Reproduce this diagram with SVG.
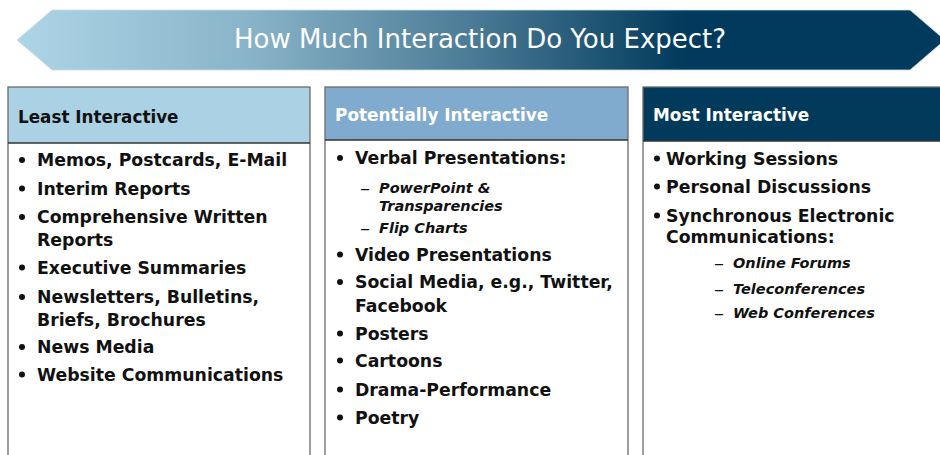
<svg xmlns="http://www.w3.org/2000/svg" width="940" height="455" viewBox="0 0 940 455">
<defs>
<linearGradient id="bannerGrad" gradientUnits="userSpaceOnUse" x1="17" y1="0" x2="685" y2="0">
<stop offset="0" stop-color="#aed5e7"/>
<stop offset="0.35" stop-color="#89b3c8"/>
<stop offset="0.68" stop-color="#4b7b96"/>
<stop offset="1" stop-color="#013a5c"/>
</linearGradient>
<style>
.hdrline{stroke:#333333;stroke-width:1.3}
.hdr{font-family:"DejaVu Sans",Verdana,sans-serif;font-weight:bold}
.item{font-family:"DejaVu Sans",Verdana,sans-serif;font-weight:bold;font-size:17.3px;fill:#111111}
.sub{font-family:"DejaVu Sans",Verdana,sans-serif;font-weight:bold;font-style:italic;font-size:14.5px;fill:#111111}
.dash{font-family:"DejaVu Sans",Verdana,sans-serif;font-size:20px;fill:#111111}
.bul{fill:#111111}
.frame{fill:none;stroke:#6a6a6a;stroke-width:1.3}
</style>
</defs>
<g id="banner">
<polygon points="17,40 52,10 910,10 945,40 910,70 52,70" fill="url(#bannerGrad)" stroke="#c8dde8" stroke-width="0.8"/>
<text x="480" y="48" text-anchor="middle" font-family="DejaVu Sans, Verdana, sans-serif" font-size="26" fill="#ffffff">How Much Interaction Do You Expect?</text>
</g>
<g id="col-least">
<rect x="8" y="87" width="302" height="380" fill="#ffffff"/>
<rect x="8" y="87" width="302" height="56" fill="#abd2e4"/>
<rect class="frame" x="8" y="87" width="302" height="380"/>
<line class="hdrline" x1="8" y1="143" x2="310" y2="143"/>
<text class="hdr" x="18" y="123" font-size="16.8" fill="#111111">Least Interactive</text>
<circle class="bul" cx="22" cy="160" r="3"/>
<text class="item" x="37" y="166">Memos, Postcards, E-Mail</text>
<circle class="bul" cx="22" cy="188.5" r="3"/>
<text class="item" x="37" y="194.5">Interim Reports</text>
<circle class="bul" cx="22" cy="217" r="3"/>
<text class="item" x="37" y="223">Comprehensive Written</text>
<text class="item" x="37" y="246">Reports</text>
<circle class="bul" cx="22" cy="267.5" r="3"/>
<text class="item" x="37" y="273.5">Executive Summaries</text>
<circle class="bul" cx="22" cy="297" r="3"/>
<text class="item" x="37" y="303">Newsletters, Bulletins,</text>
<text class="item" x="37" y="325.5">Briefs, Brochures</text>
<circle class="bul" cx="22" cy="347" r="3"/>
<text class="item" x="37" y="353">News Media</text>
<circle class="bul" cx="22" cy="374.5" r="3"/>
<text class="item" x="37" y="380.5">Website Communications</text>
</g>
<g id="col-potential">
<rect x="325" y="87" width="303" height="380" fill="#ffffff"/>
<rect x="325" y="87" width="303" height="53" fill="#80abcf"/>
<rect class="frame" x="325" y="87" width="303" height="380"/>
<line class="hdrline" x1="325" y1="140" x2="628" y2="140"/>
<text class="hdr" x="335" y="120.5" font-size="16.9" fill="#ffffff">Potentially Interactive</text>
<circle class="bul" cx="340" cy="158" r="3"/>
<text class="item" x="355" y="164">Verbal Presentations:</text>
<text class="dash" x="360" y="194.5">–</text>
<text class="sub" x="379" y="193">PowerPoint &amp;</text>
<text class="sub" x="379" y="211">Transparencies</text>
<text class="dash" x="360" y="234.5">–</text>
<text class="sub" x="379" y="233">Flip Charts</text>
<circle class="bul" cx="340" cy="254.5" r="3"/>
<text class="item" x="355" y="260.5">Video Presentations</text>
<circle class="bul" cx="340" cy="282" r="3"/>
<text class="item" x="355" y="288">Social Media, e.g., Twitter,</text>
<text class="item" x="355" y="311.5">Facebook</text>
<circle class="bul" cx="340" cy="333.5" r="3"/>
<text class="item" x="355" y="339.5">Posters</text>
<circle class="bul" cx="340" cy="360.5" r="3"/>
<text class="item" x="355" y="366.5">Cartoons</text>
<circle class="bul" cx="340" cy="389.5" r="3"/>
<text class="item" x="355" y="395.5">Drama-Performance</text>
<circle class="bul" cx="340" cy="417.5" r="3"/>
<text class="item" x="355" y="423.5">Poetry</text>
</g>
<g id="col-most">
<rect x="643" y="87" width="310" height="380" fill="#ffffff"/>
<rect x="643" y="87" width="310" height="54" fill="#023a5b"/>
<rect class="frame" x="643" y="87" width="310" height="380"/>
<line class="hdrline" x1="643" y1="141" x2="940" y2="141"/>
<text class="hdr" x="653" y="121" font-size="16.9" fill="#ffffff">Most Interactive</text>
<circle class="bul" cx="657" cy="158.5" r="3"/>
<text class="item" x="666" y="164.5">Working Sessions</text>
<circle class="bul" cx="657" cy="186.5" r="3"/>
<text class="item" x="666" y="192.5">Personal Discussions</text>
<circle class="bul" cx="657" cy="215.5" r="3"/>
<text class="item" x="666" y="221.5">Synchronous Electronic</text>
<text class="item" x="666" y="242.5">Communications:</text>
<text class="dash" x="714" y="269.5">–</text>
<text class="sub" x="733" y="268">Online Forums</text>
<text class="dash" x="714" y="295.5">–</text>
<text class="sub" x="733" y="294">Teleconferences</text>
<text class="dash" x="714" y="319.5">–</text>
<text class="sub" x="733" y="318">Web Conferences</text>
</g>
<g id="connectors"></g>
</svg>
